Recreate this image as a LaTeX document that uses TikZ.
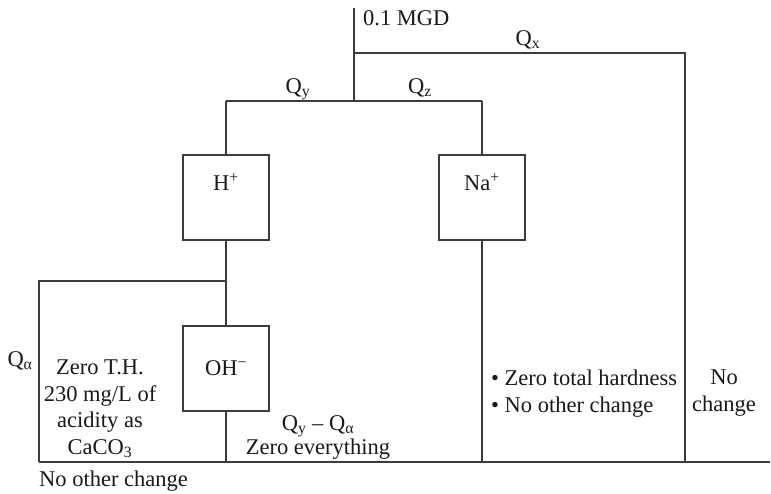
\documentclass[tikz,border=0pt]{standalone}
\usepackage{fontspec}
\setmainfont{Liberation Serif}
\usepackage{tikz}
\usetikzlibrary{positioning,calc}
\definecolor{inkgray}{RGB}{60,60,60}

\begin{document}
\begin{tikzpicture}[
      x=1pt, y=-1pt,
      pipe/.style={draw=inkgray, line width=1.1pt},
      unit/.style={draw=inkgray, line width=1.1pt, minimum width=86pt, minimum height=85pt, inner sep=0pt},
      lbl/.style={font=\fontsize{22.5}{26.5}\selectfont, color=black!90, anchor=base, inner sep=0pt},
      note/.style={lbl, align=center}
    ]
      \useasboundingbox (0,0) rectangle (771,493);
      \coordinate (feed) at (354,8);
      \coordinate (split) at (354,101);
      \coordinate (bypass) at (354,53);
      \coordinate (xcorner) at (685,53);
      \coordinate (xend) at (685,462);
      \coordinate (ycorner) at (226,101);
      \coordinate (zcorner) at (482,101);
      \coordinate (tee) at (226,281);
      \coordinate (acorner) at (39,281);
      \coordinate (aend) at (39,462);
      \coordinate (hend) at (226,462);
      \coordinate (nend) at (482,462);
      \coordinate (rend) at (770,462);

      \node[unit] (hplus) at (226,197.5) {};
      \node[unit] (naplus) at (482,197.5) {};
      \node[unit] (ohminus) at (226,368.5) {};

      \draw[pipe] (feed) -- (split);
      \draw[pipe] (bypass) -- (xcorner) -- (xend);
      \draw[pipe] (ycorner) -- (zcorner);
      \draw[pipe] (ycorner) -- (hplus.north);
      \draw[pipe] (zcorner) -- (naplus.north);
      \draw[pipe] (hplus.south) -- (ohminus.north);
      \draw[pipe] (tee) -- (acorner) -- (aend);
      \draw[pipe] (ohminus.south) -- (hend);
      \draw[pipe] (naplus.south) -- (nend);
      \draw[pipe] (aend) -- (rend);

      \node[lbl, anchor=base west] (mgd) at (363,25) {0.1 MGD};
      \node[lbl] (qx) at (528,45) {Q\textsubscript{x}};
      \node[lbl] (qy) at (298,93) {Q\textsubscript{y}};
      \node[lbl] (qz) at (420,93) {Q\textsubscript{z}};
      \node[lbl] at ([yshift=7.5pt]hplus.center) {H\textsuperscript{+}};
      \node[lbl] at ([yshift=7.5pt]naplus.center) {Na\textsuperscript{+}};
      \node[lbl] at (226,375) {OH\textsuperscript{−}};
      \node[lbl] (qa) at (20,366) {Q\textsubscript{α}};
      \node[note, anchor=north] (zeroth) at (100,360) {Zero T.H.\\230 mg/L of\\acidity as\\CaCO\textsubscript{3}};
      \node[note, anchor=north, font=\fontsize{22.5}{24}\selectfont] (zeroall) at (318,415) {Q\textsubscript{y} – Q\textsubscript{α}\\Zero everything};
      \node[lbl, anchor=base west] (nochg) at (39,486) {No other change};
      \node[lbl, align=left, anchor=north west] (hard) at (491,370) {• Zero total hardness\\• No other change};
      \node[note, anchor=north] (nochange) at (724,370) {No\\change};
    \end{tikzpicture}
\end{document}
